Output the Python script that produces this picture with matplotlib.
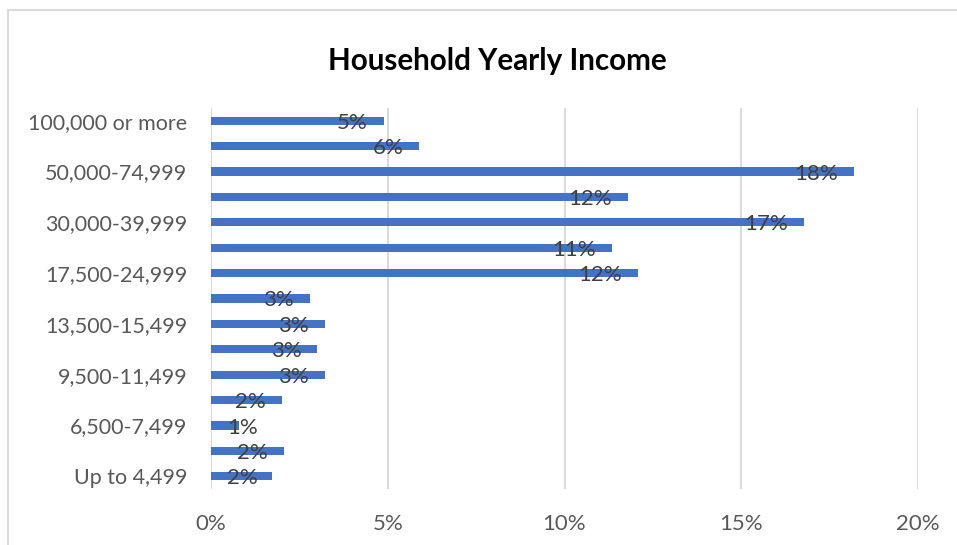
import matplotlib
matplotlib.use("Agg")
import matplotlib.pyplot as plt
from matplotlib.patches import Rectangle

# Income brackets, bottom to top
categories = [
    "Up to 4,499", "4,500-6,499", "6,500-7,499", "7,500-9,499",
    "9,500-11,499", "11,500-13,499", "13,500-15,499", "15,500-17,499",
    "17,500-24,999", "25,000-29,999", "30,000-39,999", "40,000-49,999",
    "50,000-74,999", "75,000-99,999", "100,000 or more",
]
# Share of households in each bracket (%)
shares = [1.73, 2.07, 0.79, 2.0, 3.22, 3.01, 3.22, 2.80,
          12.08, 11.33, 16.78, 11.8, 18.19, 5.89, 4.89]
x_ticks = [0, 5, 10, 15, 20]

plt.rcParams["font.family"] = ["Lato", "DejaVu Sans"]

BAR = "#4472C4"
TXT = "#595959"
GRID = "#D9D9D9"

W, H = 957, 545
fig = plt.figure(figsize=(W / 100, H / 100), dpi=100)

# chart-area frame
fig.patches.append(Rectangle((8 / W, -0.1), 1.2, (H - 10) / H + 0.1,
                             transform=fig.transFigure, fill=False,
                             edgecolor=GRID, linewidth=1.4))

ax = fig.add_axes([211 / W, 1 - 489 / H, (918 - 211) / W, (489 - 108) / H])
y = list(range(len(categories)))
ax.barh(y, shares, height=0.33, color=BAR, zorder=3)

ax.set_xlim(0, 20)
ax.set_ylim(-0.5, len(categories) - 0.5)
ax.set_xticks(x_ticks)
ax.set_xticklabels([f"{t}%" for t in x_ticks])
ax.set_yticks(y[::2])
ax.set_yticklabels(categories[::2])
ax.tick_params(axis="both", length=0, labelsize=16, labelcolor=TXT)
ax.tick_params(axis="y", pad=17, labelsize=15.5)
ax.tick_params(axis="x", pad=18)
ax.grid(axis="x", color=GRID, linewidth=1.4, zorder=0)
for s in ax.spines.values():
    s.set_visible(False)

fig.text(497 / W, 1 - 61 / H, "Household Yearly Income", ha="center",
         va="center", fontsize=21.3, fontweight="bold", color="black")

# value labels just inside the bar ends
fig.canvas.draw()
renderer = fig.canvas.get_renderer()
pad = 16
for yi, v in zip(y, shares):
    t = ax.annotate(f"{round(v)}%", (v, yi), xytext=(-pad, -2),
                    textcoords="offset pixels", ha="right", va="center",
                    fontsize=16, color="#404040", zorder=4)
    bb = t.get_window_extent(renderer)
    x0 = ax.transData.transform((0, yi))[0]
    if bb.x0 < x0 + pad:
        t.remove()
        ax.annotate(f"{round(v)}%", (0, yi), xytext=(pad, -2),
                    textcoords="offset pixels", ha="left", va="center",
                    fontsize=16, color="#404040", zorder=4)

fig.savefig("out.png", dpi=100)
